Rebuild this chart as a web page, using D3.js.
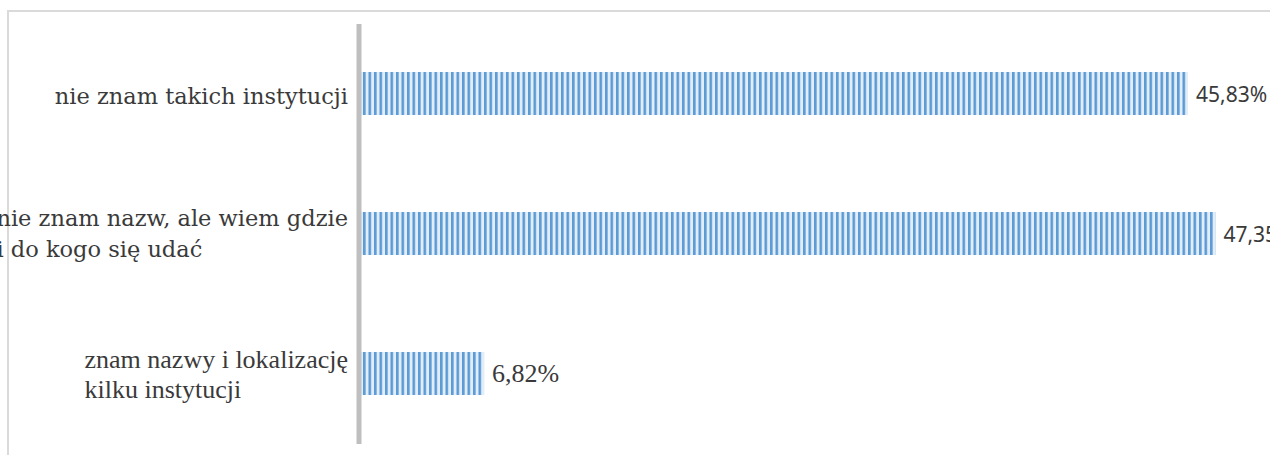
<!DOCTYPE html>
<html>
<head>
<meta charset="utf-8">
<script src="https://cdn.jsdelivr.net/npm/d3@7"></script>
<style>
    body { margin: 0; background: #fff; }
    .frame { fill: none; stroke: #dadada; stroke-width: 2; }
    .axis path { stroke: #bfbfbf; stroke-width: 5; }
    .cat-label { fill: #3a3a3a; }
    .value-label { fill: #3a3a3a; }
</style>
</head>
<body>
<svg id="chart"></svg>
<script>
const categoryLines = [
    ['nie znam takich instytucji'],
    ['nie znam nazw, ale wiem gdzie', 'i do kogo się udać'],
    ['znam nazwy i lokalizację', 'kilku instytucji'],
];
const values = [45.83, 47.35, 6.82];
const valueLabels = ['45,83%', '47,35%', '6,82%'];

const width = 1270, height = 455;
const labelRight = 348;

// the source mixes fonts: first two rows look like Cambria/Calibri, last one Times
const catFont = i => i < 2 ? '22.5px "DejaVu Serif"' : '26px "Liberation Serif"';
const valFont = i => i < 2 ? '21px "Noto Sans"' : '26px "Liberation Serif"';

const svg = d3.select('#chart')
    .attr('width', width)
    .attr('height', height);

svg.append('rect')
    .attr('class', 'frame')
    .attr('x', 8).attr('y', 11)
    .attr('width', 1400).attr('height', 600);

const pattern = svg.append('defs').append('pattern')
    .attr('id', 'stripes')
    .attr('patternUnits', 'userSpaceOnUse')
    .attr('width', 5.5)
    .attr('height', 10);
pattern.append('rect')
    .attr('width', 5.5).attr('height', 10)
    .attr('fill', '#e2edf8');
pattern.append('rect')
    .attr('width', 2.6).attr('height', 10)
    .attr('fill', '#5b9bd5');

const idx = d3.range(values.length);

const yScale = d3.scaleBand()
    .domain(idx)
    .range([23.5, 443.5])
    .paddingInner(0.693)
    .paddingOuter(0.3465);

const xScale = d3.scaleLinear()
    .domain([0, 45.83])
    .range([361, 1188]);

svg.selectAll('rect.bar')
    .data(idx)
  .enter().append('rect')
    .attr('class', 'bar')
    .attr('x', xScale(0))
    .attr('y', i => yScale(i))
    .attr('width', i => xScale(values[i]) - xScale(0))
    .attr('height', yScale.bandwidth())
    .attr('fill', 'url(#stripes)');

const yAxis = d3.axisLeft(yScale)
    .tickSize(0)
    .tickSizeOuter(0)
    .tickFormat('');

svg.append('g')
    .attr('class', 'axis')
    .attr('transform', 'translate(358.5,0)')
    .call(yAxis)
    .selectAll('.tick').remove();

svg.selectAll('text.value-label')
    .data(idx)
  .enter().append('text')
    .attr('class', 'value-label')
    .attr('x', i => xScale(values[i]) + 8)
    .attr('y', i => yScale(i) + yScale.bandwidth() / 2 + 8)
    .style('font', i => valFont(i))
    .text(i => valueLabels[i]);

idx.forEach(i => {
    const lines = categoryLines[i];
    const cy = yScale(i) + yScale.bandwidth() / 2;
    const offsets = lines.length === 1 ? [10] : (i === 1 ? [-8, 23] : [-6, 24]);
    const t = svg.append('text')
        .attr('class', 'cat-label')
        .style('font', catFont(i));
    const spans = t.selectAll('tspan')
        .data(lines)
      .enter().append('tspan')
        .attr('y', (_, j) => cy + offsets[j])
        .text(d => d);
    let maxW = 0;
    spans.each(function() { maxW = Math.max(maxW, this.getComputedTextLength()); });
    spans.attr('x', labelRight - maxW);
});
</script>
</body>
</html>
